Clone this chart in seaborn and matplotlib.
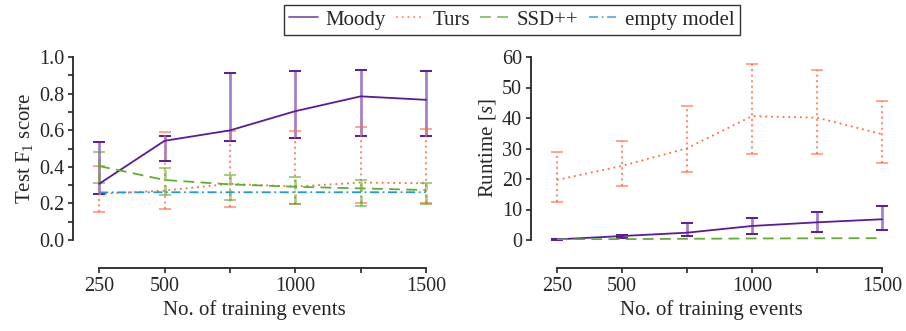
import matplotlib
matplotlib.use("Agg")
import matplotlib.pyplot as plt
import seaborn as sns
import numpy as np
import pandas as pd

# ---------------- data ----------------
events = [250, 500, 750, 1000, 1250, 1500]
models = ["Moody", "Turs", "SSD++", "empty model"]

f1_moody = [0.307, 0.542, 0.599, 0.704, 0.785, 0.766]
f1_moody_lo = [0.250, 0.434, 0.540, 0.558, 0.568, 0.568]
f1_moody_hi = [0.533, 0.566, 0.911, 0.922, 0.929, 0.922]

f1_turs = [0.252, 0.270, 0.307, 0.292, 0.314, 0.310]
f1_turs_lo = [0.153, 0.172, 0.180, 0.197, 0.200, 0.200]
f1_turs_hi = [0.407, 0.590, 0.593, 0.593, 0.615, 0.606]

f1_ssd = [0.404, 0.328, 0.304, 0.291, 0.282, 0.273]
f1_ssd_lo = [0.313, 0.246, 0.219, 0.199, 0.186, 0.195]
f1_ssd_hi = [0.482, 0.392, 0.355, 0.343, 0.328, 0.313]

f1_empty = [0.260, 0.261, 0.261, 0.261, 0.261, 0.261]

rt_moody = [0.2, 1.3, 2.4, 4.6, 5.8, 6.8]
rt_moody_lo = [0.1, 0.6, 1.3, 1.9, 2.6, 3.2]
rt_moody_hi = [0.4, 1.6, 5.5, 7.3, 9.1, 11.1]

rt_turs = [19.7, 24.3, 30.1, 40.6, 40.1, 34.7]
rt_turs_lo = [12.4, 17.8, 22.3, 28.1, 28.2, 25.2]
rt_turs_hi = [29.0, 32.6, 43.9, 57.8, 55.7, 45.7]

rt_ssd = [0.2, 0.3, 0.4, 0.5, 0.55, 0.6]

xtick_labels = ["250", "500", "", "1000", "", "1500"]

# ---------------- style ----------------
sns.set_style("ticks")
plt.rcParams["font.family"] = ["Liberation Serif", "DejaVu Serif"]
plt.rcParams["mathtext.fontset"] = "custom"
plt.rcParams["mathtext.rm"] = "Liberation Serif"
plt.rcParams["mathtext.it"] = "Liberation Serif:italic"
plt.rcParams["axes.linewidth"] = 1.3

colors = {"Moody": "#5b1a9e", "Turs": "#ff6a3d", "SSD++": "#5fae2e", "empty model": "#1a9be0"}
dashes = {"Moody": "", "Turs": (1, 2.2), "SSD++": (6, 3.5), "empty model": (5, 2, 1, 2)}
ebar_ls = {"Moody": "-", "Turs": ":", "SSD++": "--"}

TICK_FS = 14.5
LAB_FS = 15

PX = 72 / 100  # points per pixel

fig = plt.figure(figsize=(9.06, 3.31), dpi=100)
ax1 = fig.add_axes([73 / 906, 1 - 240 / 331, (436 - 73) / 906, (240 - 57) / 331])
ax2 = fig.add_axes([531 / 906, 1 - 240 / 331, (892 - 531) / 906, (240 - 57) / 331])


def long_df(series):
    rows = []
    for name, vals in series.items():
        for x, v in zip(events, vals):
            rows.append({"events": x, "value": v, "model": name})
    return pd.DataFrame(rows)


def draw_err(ax, name, mean, lo, hi):
    mean = np.array(mean)
    yerr = [mean - np.array(lo), np.array(hi) - mean]
    eb = ax.errorbar(events, mean, yerr=yerr, fmt="none", ecolor=colors[name],
                     elinewidth=2.0 if name != "Turs" else 1.5, capsize=4, capthick=1.4,
                     zorder=2)
    _, caps, bars = eb.lines
    for b in bars:
        b.set_alpha(0.55 if name != "Turs" else 0.75)
        b.set_linestyle(ebar_ls[name])
    for c in caps:
        if name != "Moody":
            c.set_alpha(0.6)


# left panel
df1 = long_df({"Moody": f1_moody, "Turs": f1_turs, "SSD++": f1_ssd, "empty model": f1_empty})
sns.lineplot(data=df1, x="events", y="value", hue="model", style="model",
             palette=colors, dashes=dashes, hue_order=models, style_order=models,
             linewidth=1.3, ax=ax1, legend=True, zorder=3)
draw_err(ax1, "Moody", f1_moody, f1_moody_lo, f1_moody_hi)
draw_err(ax1, "Turs", f1_turs, f1_turs_lo, f1_turs_hi)
draw_err(ax1, "SSD++", f1_ssd, f1_ssd_lo, f1_ssd_hi)
handles, labels = ax1.get_legend_handles_labels()
ax1.get_legend().remove()

# right panel
df2 = long_df({"Moody": rt_moody, "Turs": rt_turs, "SSD++": rt_ssd})
sns.lineplot(data=df2, x="events", y="value", hue="model", style="model",
             palette=colors, dashes=dashes, hue_order=models[:3], style_order=models[:3],
             linewidth=1.3, ax=ax2, legend=False, zorder=3)
draw_err(ax2, "Moody", rt_moody, rt_moody_lo, rt_moody_hi)
draw_err(ax2, "Turs", rt_turs, rt_turs_lo, rt_turs_hi)

for ax in (ax1, ax2):
    ax.set_xlim(150, 1538)
    ax.set_xticks(events)
    ax.set_xticklabels(xtick_labels)
    ax.spines["top"].set_visible(False)
    ax.spines["right"].set_visible(False)
    ax.spines["bottom"].set_position(("outward", 28 * PX))
    ax.spines["bottom"].set_bounds(250, 1500)
    ax.tick_params(axis="both", labelsize=TICK_FS, length=5 * PX, width=1.2, pad=4 * PX,
                   direction="out")
    ax.set_xlabel("No. of training events", fontsize=LAB_FS, labelpad=3)

ax1.set_ylim(0, 1.0)
ax1.set_yticks(np.arange(0, 1.01, 0.1))
ax1.set_yticklabels([f"{v:.1f}" if i % 2 == 0 else "" for i, v in enumerate(np.arange(0, 1.01, 0.1))])
ax1.spines["left"].set_bounds(0, 1.0)
ax1.set_ylabel("Test F$_1$ score", fontsize=LAB_FS, labelpad=3)

ax2.set_ylim(0, 60)
ax2.set_yticks([0, 10, 20, 30, 40, 50, 60])
ax2.spines["left"].set_bounds(0, 60)
ax2.set_ylabel("Runtime [$s$]", fontsize=LAB_FS, labelpad=3)

leg = fig.legend(handles, labels, loc="center", bbox_to_anchor=(0.565, 0.94), ncol=4,
                 frameon=True, fancybox=False, edgecolor="black", fontsize=LAB_FS,
                 handlelength=1.4, handletextpad=0.35, columnspacing=0.5, borderpad=0.25,
                 borderaxespad=0)
leg.get_frame().set_linewidth(1.0)
for h in leg.legend_handles:
    h.set_alpha(0.75)

fig.savefig("out.png", dpi=100)
